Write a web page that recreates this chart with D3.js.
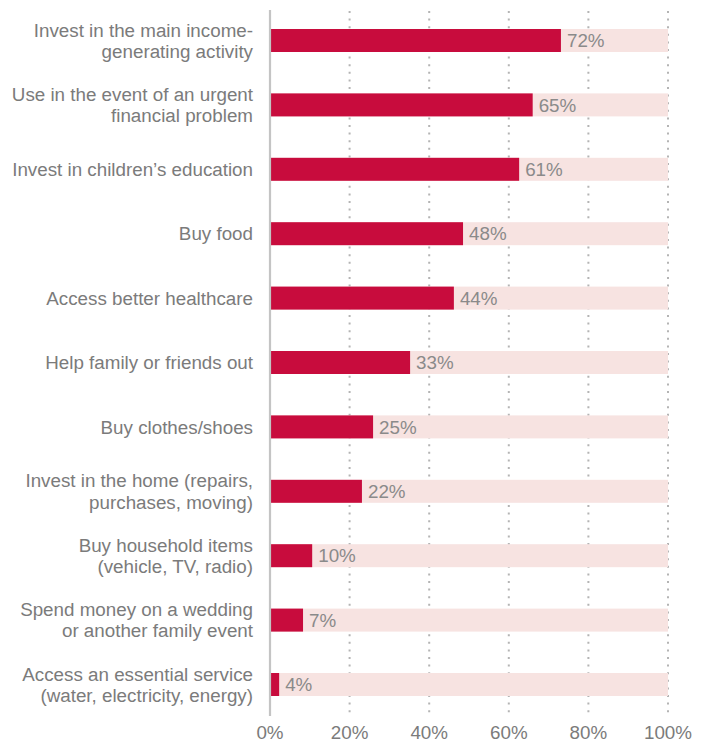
<!DOCTYPE html>
<html>
<head>
<meta charset="utf-8">
<script src="https://cdn.jsdelivr.net/npm/d3@7"></script>
<style>
  html, body { margin: 0; padding: 0; background: #fff; }
  svg { display: block; font-family: "Liberation Sans", Arial, Helvetica, sans-serif; }
</style>
</head>
<body>
<svg id="chart" width="706" height="743"></svg>
<script>
// ---- data ----
const categories = [
  ["Invest in the main income-", "generating activity"],
  ["Use in the event of an urgent", "financial problem"],
  ["Invest in children\u2019s education"],
  ["Buy food"],
  ["Access better healthcare"],
  ["Help family or friends out"],
  ["Buy clothes/shoes"],
  ["Invest in the home (repairs,", "purchases, moving)"],
  ["Buy household items", "(vehicle, TV, radio)"],
  ["Spend money on a wedding", "or another family event"],
  ["Access an essential service", "(water, electricity, energy)"]
];
// bar lengths as drawn in the picture (percent)
const barValues = [73.1, 66.0, 62.6, 48.5, 46.2, 35.2, 25.9, 23.1, 10.6, 8.3, 2.3];
// printed value labels
const valueLabels = ["72%", "65%", "61%", "48%", "44%", "33%", "25%", "22%", "10%", "7%", "4%"];
const tickValues = [0, 20, 40, 60, 80, 100];
const tickLabels = ["0%", "20%", "40%", "60%", "80%", "100%"];

// ---- layout ----
const svg = d3.select("#chart");
const x0 = 270, x1 = 668;
const yTop = 8.3, yBot = 716.7;
const x = d3.scaleLinear().domain([0, 100]).range([x0, x1]);
const y = d3.scaleBand().domain(d3.range(categories.length)).range([yTop, yBot])
  .paddingInner(0.643).paddingOuter(0.3215);

const fontSize = 18.8, lineH = 21.3, capHalf = 6.7;
const textCol = "#7b7b7b";

// grid (dotted)
svg.append("g").selectAll("line")
  .data(tickValues.filter(d => d > 0))
  .join("line")
  .attr("x1", d => x(d)).attr("x2", d => x(d))
  .attr("y1", 11).attr("y2", 714)
  .attr("stroke", "#b4b4b4")
  .attr("stroke-width", 2)
  .attr("stroke-dasharray", "2,5.6");

const rows = svg.append("g").selectAll("g")
  .data(categories.map((c, i) => ({c, v: barValues[i], l: valueLabels[i], i})))
  .join("g");

// background bar
rows.append("rect")
  .attr("x", x(0)).attr("width", x(100) - x(0))
  .attr("y", d => y(d.i)).attr("height", y.bandwidth())
  .attr("fill", "#f7e3e1");

// value bar
rows.append("rect")
  .attr("x", x(0)).attr("width", d => x(d.v) - x(0))
  .attr("y", d => y(d.i)).attr("height", y.bandwidth())
  .attr("fill", "#c80c3d");

// value labels
rows.append("text")
  .attr("x", d => x(d.v) + 6)
  .attr("y", d => y(d.i) + y.bandwidth() / 2 + capHalf)
  .attr("font-size", fontSize)
  .attr("fill", "#8a8a8a")
  .text(d => d.l);

// category labels
rows.append("text")
  .attr("text-anchor", "end")
  .attr("font-size", fontSize)
  .attr("fill", textCol)
  .each(function(d) {
    const cy = y(d.i) + y.bandwidth() / 2;
    const n = d.c.length;
    d3.select(this).selectAll("tspan")
      .data(d.c)
      .join("tspan")
      .attr("x", 253)
      .attr("y", (t, k) => cy - (n - 1) * lineH / 2 + k * lineH + capHalf)
      .text(t => t);
  });

// axis line
svg.append("line")
  .attr("x1", x(0)).attr("x2", x(0))
  .attr("y1", 10).attr("y2", 716)
  .attr("stroke", "#c4c4c4").attr("stroke-width", 2.2);

// x tick labels
svg.append("g").selectAll("text")
  .data(tickValues)
  .join("text")
  .attr("x", d => x(d))
  .attr("y", 739)
  .attr("text-anchor", "middle")
  .attr("font-size", fontSize)
  .attr("fill", textCol)
  .text((d, i) => tickLabels[i]);
</script>
</body>
</html>
